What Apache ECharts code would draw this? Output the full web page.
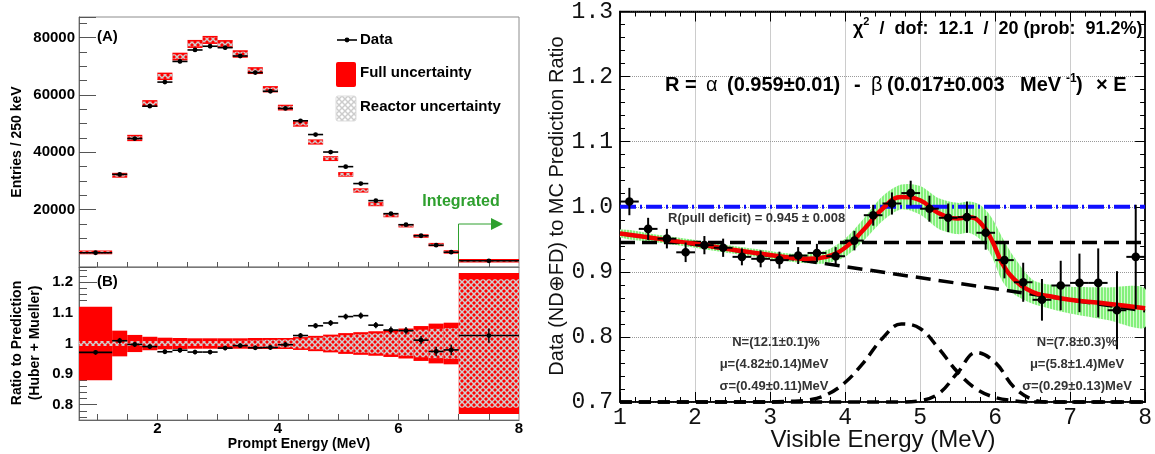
<!DOCTYPE html>
<html>
<head>
<meta charset="utf-8">
<script src="https://cdn.jsdelivr.net/npm/echarts@6.0.0/dist/echarts.min.js"></script>
<style>
html,body{margin:0;padding:0;background:#fff;}
#chart{width:1155px;height:454px;}
</style>
</head>
<body>
<div id="chart"></div>
<script>
// ===== Left panels (A) and (B): prompt energy spectrum =====
const binLo = [0.7,1.25,1.5,1.75,2.0,2.25,2.5,2.75,3.0,3.25,3.5,3.75,4.0,4.25,4.5,4.75,5.0,5.25,5.5,5.75,6.0,6.25,6.5,6.75,7.0];
const binHi = [1.25,1.5,1.75,2.0,2.25,2.5,2.75,3.0,3.25,3.5,3.75,4.0,4.25,4.5,4.75,5.0,5.25,5.5,5.75,6.0,6.25,6.5,6.75,7.0,8.0];
const entries = [4970,32300,44800,56100,64500,71700,75700,77000,76500,73600,67800,61300,55300,51000,46200,40100,35000,29100,23150,18600,14750,10900,7600,5170,2170];
const entriesErr = [70,180,210,240,250,270,275,280,275,270,260,250,235,225,215,200,185,170,150,135,120,105,87,72,47];
const prediction = [5100,32000,45000,57000,66500,73400,77800,79200,77800,74300,68500,62000,55600,49900,43600,37800,32300,26700,21900,18000,14400,10800,7800,5250,2150];
const predFullErr = [650,850,1100,1200,1300,1350,1400,1400,1350,1300,1200,1100,1000,950,900,850,800,750,700,650,600,600,600,600,600];
const predReactorErr = [400,500,650,700,800,800,850,850,800,800,700,650,600,550,550,500,500,450,400,400,350,350,350,350,300];
const ratio = [0.971,1.009,0.997,0.990,0.973,0.978,0.972,0.972,0.985,0.993,0.986,0.987,0.996,1.026,1.058,1.067,1.088,1.091,1.060,1.044,1.042,1.011,0.974,0.979,1.026];
const ratioErr = [0.004,0.006,0.005,0.004,0.004,0.004,0.004,0.004,0.004,0.004,0.004,0.004,0.005,0.005,0.005,0.006,0.006,0.007,0.007,0.008,0.009,0.010,0.012,0.014,0.020];
const ratioFullErr = [0.12,0.042,0.028,0.022,0.019,0.018,0.017,0.017,0.017,0.017,0.018,0.018,0.018,0.021,0.025,0.029,0.034,0.037,0.040,0.044,0.049,0.057,0.065,0.068,0.23];
const ratioReactorErr = [0.008,0.008,0.008,0.008,0.008,0.008,0.008,0.008,0.008,0.009,0.010,0.012,0.013,0.016,0.019,0.023,0.027,0.030,0.033,0.036,0.040,0.045,0.048,0.050,0.21];
const xTicksLeft = [1,1.5,2,2.5,3,3.5,4,4.5,5,5.5,6,6.5,7,7.5];
const xLabelsLeft = [2,4,6,8];
const yTicksB = [0.8,0.9,1.0,1.1,1.2];
const yMinorB = [0.76,0.78,0.82,0.84,0.86,0.88,0.92,0.94,0.96,0.98,1.02,1.04,1.06,1.08,1.12,1.14,1.16,1.18,1.22,1.24];

// ===== Right panel: data / MC ratio vs visible energy =====
const visE = [1.125,1.375,1.625,1.875,2.125,2.375,2.625,2.875,3.125,3.375,3.625,3.875,4.125,4.375,4.625,4.875,5.125,5.375,5.625,5.875,6.125,6.375,6.625,6.875,7.125,7.375,7.625,7.875];
const visR = [1.008,0.966,0.951,0.930,0.941,0.937,0.923,0.920,0.918,0.925,0.929,0.924,0.948,0.987,1.005,1.021,0.997,0.983,0.984,0.960,0.918,0.884,0.857,0.879,0.883,0.883,0.841,0.923];
const visErr = [0.021,0.017,0.015,0.015,0.014,0.014,0.013,0.013,0.013,0.013,0.014,0.014,0.015,0.016,0.017,0.019,0.020,0.022,0.024,0.026,0.028,0.030,0.032,0.038,0.045,0.053,0.060,0.080];
const fitE  = [1.0,1.5,2.0,2.5,3.0,3.25,3.5,3.75,4.0,4.25,4.5,4.75,5.0,5.25,5.5,5.65,5.8,5.95,6.1,6.25,6.5,6.75,7.0,7.5,8.0];
const fitR  = [0.959,0.951,0.943,0.934,0.926,0.922,0.920,0.923,0.937,0.965,0.997,1.015,1.010,0.990,0.982,0.984,0.976,0.950,0.912,0.889,0.869,0.862,0.857,0.851,0.844];
const bandHi= [0.965,0.957,0.949,0.940,0.932,0.928,0.927,0.933,0.951,0.982,1.016,1.034,1.032,1.013,1.006,1.008,1.003,0.984,0.952,0.923,0.888,0.880,0.877,0.876,0.874];
const bandLo= [0.953,0.945,0.937,0.928,0.920,0.916,0.913,0.913,0.923,0.948,0.978,0.996,0.988,0.966,0.958,0.960,0.950,0.925,0.885,0.866,0.851,0.843,0.836,0.826,0.815];
const baseE = [1.0,8.0];
const baseR = [0.959,0.840];
const g1E = [1.0,3.0,3.25,3.5,3.75,4.0,4.25,4.5,4.75,5.0,5.25,5.5,5.75,6.0,6.25,6.5,8.0];
const g1R = [0.700,0.700,0.701,0.703,0.711,0.730,0.761,0.798,0.820,0.813,0.782,0.746,0.720,0.707,0.702,0.700,0.700];
const g2E = [1.0,4.75,5.0,5.25,5.5,5.75,6.0,6.25,6.5,6.75,8.0];
const g2R = [0.700,0.700,0.702,0.713,0.745,0.776,0.761,0.723,0.704,0.700,0.700];
const unityLevel = 1.0;
const pullDeficit = 0.945;

// ---------- patterns ----------
function hatchCanvas(bg, col) {
  const c = document.createElement('canvas'); c.width = 6; c.height = 6;
  const g = c.getContext('2d');
  if (bg) { g.fillStyle = bg; g.fillRect(0, 0, 6, 6); }
  g.strokeStyle = col; g.lineWidth = 1.5;
  g.beginPath(); g.moveTo(0, 0); g.lineTo(6, 6); g.moveTo(6, 0); g.lineTo(0, 6); g.stroke();
  return c;
}
function stripeCanvas() {
  const c = document.createElement('canvas'); c.width = 3; c.height = 4;
  const g = c.getContext('2d');
  g.fillStyle = '#d2fbcc'; g.fillRect(0, 0, 3, 4);
  g.fillStyle = '#84f07c'; g.fillRect(0, 0, 2, 4);
  return c;
}
const hatchOnRed = hatchCanvas(null, '#cfcfcf');
const hatchLegend = hatchCanvas('#ffffff', '#cccccc');
const stripes = stripeCanvas();

const SANS = '"Liberation Sans", Arial, Helvetica, sans-serif';
const MONO = '"Liberation Mono", "DejaVu Sans Mono", monospace';

function boxItem(params, api) {
  const x0 = api.value(0), x1 = api.value(1), c = api.value(2), f = api.value(3), r = api.value(4);
  const p0 = api.coord([x0, c + f]), p1 = api.coord([x1, c - f]);
  const q0 = api.coord([x0, c + r]), q1 = api.coord([x1, c - r]);
  return { type: 'group', children: [
    { type: 'rect', shape: { x: p0[0], y: p0[1], width: p1[0] - p0[0], height: p1[1] - p0[1] }, style: { fill: '#ff0000' } },
    { type: 'rect', shape: { x: q0[0], y: q0[1], width: q1[0] - q0[0], height: q1[1] - q0[1] }, style: { fill: { image: hatchOnRed, repeat: 'repeat' } } }
  ]};
}
function binPointItem(params, api) {
  const x0 = api.value(0), x1 = api.value(1), v = api.value(2), e = api.value(3);
  const xm = (x0 + x1) / 2;
  const a = api.coord([x0, v]), b = api.coord([x1, v]);
  const t = api.coord([xm, v + e]), d = api.coord([xm, v - e]);
  return { type: 'group', children: [
    { type: 'line', shape: { x1: a[0], y1: a[1], x2: b[0], y2: b[1] }, style: { stroke: '#000', lineWidth: 1.6 } },
    { type: 'line', shape: { x1: t[0], y1: t[1] - 1, x2: d[0], y2: d[1] + 1 }, style: { stroke: '#000', lineWidth: 1.4 } },
    { type: 'circle', shape: { cx: t[0], cy: a[1], r: 2.4 }, style: { fill: '#000' } }
  ]};
}
function visPointItem(params, api) {
  const E = api.value(0), R = api.value(1), e = api.value(2);
  const a = api.coord([E - 0.125, R]), b = api.coord([E + 0.125, R]);
  const t = api.coord([E, R + e]), d = api.coord([E, R - e]);
  return { type: 'group', children: [
    { type: 'line', shape: { x1: a[0], y1: a[1], x2: b[0], y2: b[1] }, style: { stroke: '#000', lineWidth: 2 } },
    { type: 'line', shape: { x1: t[0], y1: t[1], x2: d[0], y2: d[1] }, style: { stroke: '#000', lineWidth: 2 } },
    { type: 'circle', shape: { cx: t[0], cy: a[1], r: 4.3 }, style: { fill: '#000' } }
  ]};
}
function bandItem(params, api) {
  const pts = [];
  for (let i = 0; i < fitE.length; i++) pts.push(api.coord([fitE[i], bandHi[i]]));
  for (let i = fitE.length - 1; i >= 0; i--) pts.push(api.coord([fitE[i], bandLo[i]]));
  return { type: 'polygon', shape: { points: pts, smooth: 0.3 }, style: { fill: { image: stripes, repeat: 'repeat' } } };
}

const leftTick = { color: '#555', width: 1 };
const boldLabel = { fontWeight: 'bold', fontSize: 15, fontFamily: SANS, color: '#000' };
function txt(x, y, text, font, fill, align, extra) {
  return Object.assign({ type: 'text', x: x, y: y, z: 10, style: { text: text, font: font, fill: fill || '#000', align: align || 'left', verticalAlign: 'middle' } }, extra || {});
}

const option = {
  animation: false,
  backgroundColor: '#fff',
  grid: [
    { left: 79, top: 17, width: 440, height: 250, show: true, borderColor: '#8c8c8c', borderWidth: 1 },
    { left: 79, top: 267, width: 440, height: 153, show: true, borderColor: '#8c8c8c', borderWidth: 1 },
    { left: 620, top: 11, width: 527, height: 391, show: true, borderColor: '#000', borderWidth: 1.5 }
  ],
  xAxis: [
    { gridIndex: 0, type: 'value', min: 0.7, max: 8,
      axisLine: { show: true, lineStyle: { color: '#777' } },
      axisTick: { show: true, inside: true, length: 5, customValues: xTicksLeft, lineStyle: leftTick },
      axisLabel: { show: false }, splitLine: { show: false } },
    { gridIndex: 1, type: 'value', min: 0.7, max: 8,
      axisLine: { show: true, lineStyle: { color: '#666' } },
      axisTick: { show: true, inside: true, length: 6, customValues: xTicksLeft, lineStyle: leftTick },
      axisLabel: Object.assign({ customValues: xLabelsLeft, margin: 1 }, boldLabel), splitLine: { show: false } },
    { gridIndex: 2, type: 'value', min: 1, max: 8, interval: 1,
      axisLine: { show: true, lineStyle: { color: '#000', width: 1.5 } },
      axisTick: { show: true, inside: true, length: 10, lineStyle: { color: '#000', width: 1 } },
      minorTick: { show: true, splitNumber: 5, length: 5, lineStyle: { color: '#000', width: 1 } },
      axisLabel: { fontFamily: MONO, fontSize: 23, color: '#111', margin: 4 },
      splitLine: { show: true, lineStyle: { type: 'dotted', color: '#999', width: 1 } } },
    { gridIndex: 2, type: 'value', position: 'top', min: 1, max: 8, interval: 1,
      axisLine: { show: true, lineStyle: { color: '#000', width: 1.5 } },
      axisTick: { show: true, inside: true, length: 10, lineStyle: { color: '#000', width: 1 } },
      minorTick: { show: true, splitNumber: 5, length: 5, lineStyle: { color: '#000', width: 1 } },
      axisLabel: { show: false }, splitLine: { show: false } }
  ],
  yAxis: [
    { gridIndex: 0, type: 'value', position: 'left', min: 0, max: 87200, interval: 20000,
      axisLine: { show: true, lineStyle: { color: '#666' } },
      axisTick: { show: true, inside: true, length: 17, lineStyle: leftTick },
      minorTick: { show: true, splitNumber: 4, length: 8, lineStyle: leftTick },
      axisLabel: Object.assign({ showMinLabel: false, showMaxLabel: false, margin: 4, formatter: v => String(Math.round(v)) }, boldLabel),
      splitLine: { show: false } },
    { gridIndex: 1, type: 'value', position: 'left', min: 0.75, max: 1.25,
      axisLine: { show: true, lineStyle: { color: '#666' } },
      axisTick: { show: true, inside: true, length: 18, customValues: yTicksB, lineStyle: leftTick },
      axisLabel: Object.assign({ customValues: yTicksB, margin: 6, formatter: v => (Math.abs(v - 1) < 1e-9 ? '1' : v.toFixed(1)) }, boldLabel),
      splitLine: { show: false } },
    { gridIndex: 1, type: 'value', position: 'left', min: 0.75, max: 1.25,
      axisLine: { show: false },
      axisTick: { show: true, inside: true, length: 8, customValues: yMinorB, lineStyle: leftTick },
      axisLabel: { show: false }, splitLine: { show: false } },
    { gridIndex: 2, type: 'value', position: 'left', min: 0.7, max: 1.3, interval: 0.1,
      axisLine: { show: true, lineStyle: { color: '#000', width: 1.5 } },
      axisTick: { show: true, inside: true, length: 10, lineStyle: { color: '#000', width: 1 } },
      minorTick: { show: true, splitNumber: 5, length: 5, lineStyle: { color: '#000', width: 1 } },
      axisLabel: { fontFamily: MONO, fontSize: 23, color: '#111', margin: 7, formatter: v => v.toFixed(1) },
      splitLine: { show: true, lineStyle: { type: 'dotted', color: '#999', width: 1 } } },
    { gridIndex: 2, type: 'value', position: 'right', min: 0.7, max: 1.3, interval: 0.1,
      axisLine: { show: true, lineStyle: { color: '#000', width: 1.5 } },
      axisTick: { show: true, inside: true, length: 10, lineStyle: { color: '#000', width: 1 } },
      minorTick: { show: true, splitNumber: 5, length: 5, lineStyle: { color: '#000', width: 1 } },
      axisLabel: { show: false }, splitLine: { show: false } }
  ],
  series: [
    { type: 'custom', xAxisIndex: 0, yAxisIndex: 0, clip: true, renderItem: boxItem, encode: { x: [0, 1], y: 2 },
      data: binLo.map((l, i) => [l, binHi[i], prediction[i], predFullErr[i], predReactorErr[i]]) },
    { type: 'custom', xAxisIndex: 0, yAxisIndex: 0, clip: true, renderItem: binPointItem, encode: { x: [0, 1], y: 2 }, z: 5,
      data: binLo.map((l, i) => [l, binHi[i], entries[i], entriesErr[i]]) },
    { type: 'custom', xAxisIndex: 1, yAxisIndex: 1, clip: true, renderItem: boxItem, encode: { x: [0, 1], y: 2 },
      data: binLo.map((l, i) => [l, binHi[i], 1.0, ratioFullErr[i], ratioReactorErr[i]]) },
    { type: 'custom', xAxisIndex: 1, yAxisIndex: 1, clip: true, renderItem: binPointItem, encode: { x: [0, 1], y: 2 }, z: 5,
      data: binLo.map((l, i) => [l, binHi[i], ratio[i], ratioErr[i]]) },
    { type: 'custom', xAxisIndex: 2, yAxisIndex: 3, clip: true, renderItem: bandItem, encode: { x: 0, y: 1 },
      data: [[fitE[0], fitR[0]]], z: 1 },
    { type: 'line', xAxisIndex: 2, yAxisIndex: 3, symbol: 'none', z: 3,
      lineStyle: { color: '#1010ff', width: 4, type: [16, 4, 2, 4] },
      data: [[baseE[0], unityLevel], [baseE[1], unityLevel]] },
    { type: 'line', xAxisIndex: 2, yAxisIndex: 3, symbol: 'none', z: 3,
      lineStyle: { color: '#000', width: 3.5, type: [15, 7] },
      data: [[baseE[0], pullDeficit], [baseE[1], pullDeficit]] },
    { type: 'line', xAxisIndex: 2, yAxisIndex: 3, symbol: 'none', z: 3,
      lineStyle: { color: '#000', width: 3.5, type: [15, 8] },
      data: baseE.map((e, i) => [e, baseR[i]]) },
    { type: 'line', xAxisIndex: 2, yAxisIndex: 3, symbol: 'none', z: 3, smooth: 0.4, clip: false,
      lineStyle: { color: '#000', width: 3.5, type: [12, 7] },
      data: g1E.map((e, i) => [e, g1R[i]]) },
    { type: 'line', xAxisIndex: 2, yAxisIndex: 3, symbol: 'none', z: 3, smooth: 0.4, clip: false,
      lineStyle: { color: '#000', width: 3.5, type: [12, 7] },
      data: g2E.map((e, i) => [e, g2R[i]]) },
    { type: 'line', xAxisIndex: 2, yAxisIndex: 3, symbol: 'none', z: 4, smooth: 0.45,
      lineStyle: { color: '#f00000', width: 4.5 },
      data: fitE.map((e, i) => [e, fitR[i]]) },
    { type: 'custom', xAxisIndex: 2, yAxisIndex: 3, clip: false, renderItem: visPointItem, encode: { x: 0, y: 1 }, z: 6,
      data: visE.map((e, i) => [e, visR[i], visErr[i]]) }
  ],
  graphic: [
    txt(17, 142, 'Entries / 250 keV', 'bold 14px ' + SANS, '#000', 'center', { rotation: Math.PI / 2 }),
    txt(17, 343, 'Ratio to Prediction', 'bold 14px ' + SANS, '#000', 'center', { rotation: Math.PI / 2 }),
    txt(35, 343, '(Huber + Mueller)', 'bold 14px ' + SANS, '#000', 'center', { rotation: Math.PI / 2 }),
    txt(299, 444, 'Prompt Energy (MeV)', 'bold 14px ' + SANS, '#000', 'center'),
    txt(97, 37, '(A)', 'bold 15px ' + SANS),
    txt(97, 282, '(B)', 'bold 15px ' + SANS),
    { type: 'line', shape: { x1: 337, y1: 40, x2: 357, y2: 40 }, style: { stroke: '#000', lineWidth: 1.6 } },
    { type: 'circle', shape: { cx: 347, cy: 40, r: 2.4 }, style: { fill: '#000' } },
    txt(360, 40, 'Data', 'bold 15px ' + SANS),
    { type: 'rect', shape: { x: 336, y: 62, width: 20, height: 25, r: 2 }, style: { fill: '#ff0000' } },
    txt(360, 73, 'Full uncertainty', 'bold 15px ' + SANS),
    { type: 'rect', shape: { x: 336, y: 96, width: 20, height: 25, r: 2 }, style: { fill: { image: hatchLegend, repeat: 'repeat' }, stroke: '#dddddd', lineWidth: 1 } },
    txt(360, 107, 'Reactor uncertainty', 'bold 15px ' + SANS),
    txt(461, 202, 'Integrated', 'bold 16px ' + SANS, '#2ea02e', 'center'),
    { type: 'polyline', shape: { points: [[458.5, 267], [458.5, 224], [492, 224]] }, style: { stroke: '#2ea02e', lineWidth: 1, fill: null } },
    { type: 'polygon', shape: { points: [[491, 218], [503, 224], [491, 230]] }, style: { fill: '#2ea02e' } },
    txt(557, 206, 'Data (ND\u2295FD) to MC Prediction Ratio', '20px ' + SANS, '#111', 'center', { rotation: Math.PI / 2 }),
    txt(883, 440, 'Visible Energy (MeV)', '24px ' + SANS, '#111', 'center'),
    // chi2 line
    { type: 'text', x: 853, y: 27, z: 10, style: { text: '{a|\u03c7}{s|2}{a|  /  dof:  12.1  /  20 (prob:  91.2%)}', align: 'left', verticalAlign: 'middle',
      rich: { a: { font: 'bold 18px ' + SANS, fill: '#000', lineHeight: 22, verticalAlign: 'bottom' }, s: { font: 'bold 11px ' + SANS, fill: '#000', lineHeight: 22, verticalAlign: 'top' } } } },
    // fit formula, pieces placed as in the reference
    txt(665, 85, 'R =', 'bold 20px ' + SANS),
    txt(706, 85, '\u03b1', '20px ' + SANS),
    txt(727, 85, '(0.959\u00b10.01)', 'bold 20px ' + SANS),
    txt(854, 85, '-', 'bold 20px ' + SANS),
    txt(871, 85, '\u03b2', '20px ' + SANS),
    txt(887, 85, '(0.017\u00b10.003', 'bold 20px ' + SANS),
    txt(1020, 85, 'MeV', 'bold 20px ' + SANS),
    txt(1066, 79, '-1', 'bold 12px ' + SANS),
    txt(1076, 85, ')', 'bold 20px ' + SANS),
    txt(1096, 85, '\u00d7 E', 'bold 20px ' + SANS),
    txt(668, 218, 'R(pull deficit) = 0.945 \u00b1 0.008', 'bold 13px ' + SANS, '#333'),
    txt(776, 342, 'N=(12.1\u00b10.1)%', 'bold 13px ' + SANS, '#333', 'center'),
    txt(774, 364, '\u03bc=(4.82\u00b10.14)MeV', 'bold 13px ' + SANS, '#333', 'center'),
    txt(774, 386, '\u03c3=(0.49\u00b10.11)MeV', 'bold 13px ' + SANS, '#333', 'center'),
    txt(1077, 342, 'N=(7.8\u00b10.3)%', 'bold 13px ' + SANS, '#333', 'center'),
    txt(1077, 364, '\u03bc=(5.8\u00b11.4)MeV', 'bold 13px ' + SANS, '#333', 'center'),
    txt(1077, 386, '\u03c3=(0.29\u00b10.13)MeV', 'bold 13px ' + SANS, '#333', 'center')
  ]
};

const chart = echarts.init(document.getElementById('chart'), null, { renderer: 'canvas', width: 1155, height: 454 });
chart.setOption(option);
</script>
</body>
</html>
